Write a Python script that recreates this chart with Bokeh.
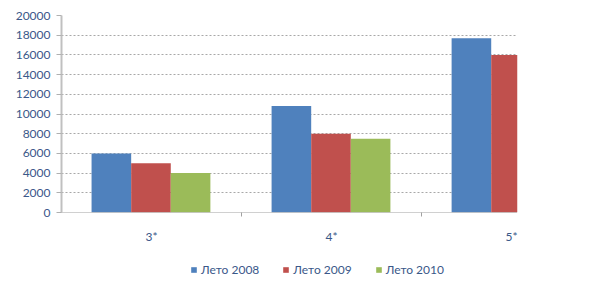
from bokeh.plotting import figure
from bokeh.layouts import column
from bokeh.models import FixedTicker, Range1d, Legend, LegendItem, ColumnDataSource
from bokeh.embed import file_html
from bokeh.resources import INLINE

categories = ["3*", "4*", "5*"]
series = ["Лето 2008", "Лето 2009", "Лето 2010"]
leto2008 = [6000, 10800, 17700]
leto2009 = [5000, 8000, 16000]
leto2010 = [4000, 7500]
colors = ["#4F81BD", "#C0504D", "#9BBB59"]
y_ticks = list(range(0, 20001, 2000))

TEXT = "#3A5889"
FONT = "Lato"

p = figure(width=611, height=258, output_backend="svg", toolbar_location=None,
           x_range=Range1d(0, 2.533), y_range=Range1d(0, 20000),
           min_border_left=61, min_border_right=94, min_border_top=15, min_border_bottom=46)
p.outline_line_color = None

bar_w = 0.22
offsets = [0.167 + bar_w / 2, 0.167 + bar_w * 1.5, 0.167 + bar_w * 2.5]
renderers = []
for k, (vals, col) in enumerate(zip([leto2008, leto2009, leto2010], colors)):
    xs = [i + offsets[k] for i in range(len(vals))]
    src = ColumnDataSource(dict(x=xs, top=vals))
    r = p.vbar(x="x", top="top", width=bar_w, bottom=0, source=src,
               fill_color=col, line_color=None)
    renderers.append(r)

# y axis
p.yaxis.ticker = FixedTicker(ticks=y_ticks)
p.yaxis.axis_line_color = "#C0C0C0"
p.yaxis.axis_line_width = 2
p.yaxis.major_tick_line_color = "#B0B0B0"
p.yaxis.major_tick_out = 5
p.yaxis.major_tick_in = 0
p.yaxis.minor_tick_line_color = None
p.yaxis.major_label_text_font = FONT
p.yaxis.major_label_text_font_size = "12px"
p.yaxis.major_label_text_color = TEXT
p.yaxis.major_label_standoff = 6

# x axis
p.xaxis.ticker = FixedTicker(ticks=[i + 0.5 for i in range(len(categories))],
                             minor_ticks=[1, 2])
p.xaxis.major_label_overrides = {i + 0.5: c for i, c in enumerate(categories)}
p.xaxis.axis_line_color = "#A0A0A0"
p.xaxis.axis_line_dash = "1 1"
p.xaxis.major_tick_line_color = None
p.xaxis.minor_tick_line_color = "#A0A0A0"
p.xaxis.minor_tick_out = 4
p.xaxis.minor_tick_in = 0
p.xaxis.major_label_text_font = FONT
p.xaxis.major_label_text_font_size = "12px"
p.xaxis.major_label_text_color = TEXT
p.xaxis.major_label_standoff = 10

p.xgrid.grid_line_color = None
p.ygrid.ticker = FixedTicker(ticks=y_ticks)
p.ygrid.grid_line_color = "#A8A8A8"
p.ygrid.grid_line_dash = "2 2"

# legend row (separate strip below the chart); zero-height swatch bars only feed the legend
lp = figure(width=611, height=30, output_backend="svg", toolbar_location=None,
            x_range=Range1d(0, 1), y_range=Range1d(0, 1),
            min_border_left=0, min_border_right=0, min_border_top=0, min_border_bottom=0)
lp.axis.visible = False
lp.grid.visible = False
lp.outline_line_color = None
lrs = [lp.vbar(x=[0.5], top=[0], bottom=[0], width=0.01, fill_color=c, line_color=None)
       for c in colors]

legend = Legend(items=[LegendItem(label=s, renderers=[r]) for s, r in zip(series, lrs)],
                orientation="horizontal", location=(129, 11))
legend.label_text_font = FONT
legend.label_text_font_size = "12px"
legend.label_text_color = TEXT
legend.glyph_width = 7
legend.glyph_height = 7
legend.spacing = 23
legend.label_standoff = 4
legend.border_line_color = None
legend.background_fill_alpha = 0
legend.padding = 2
legend.margin = 0
lp.add_layout(legend, "center")

layout = column(p, lp, spacing=0)
open("out.html", "w").write(file_html(layout, INLINE))
